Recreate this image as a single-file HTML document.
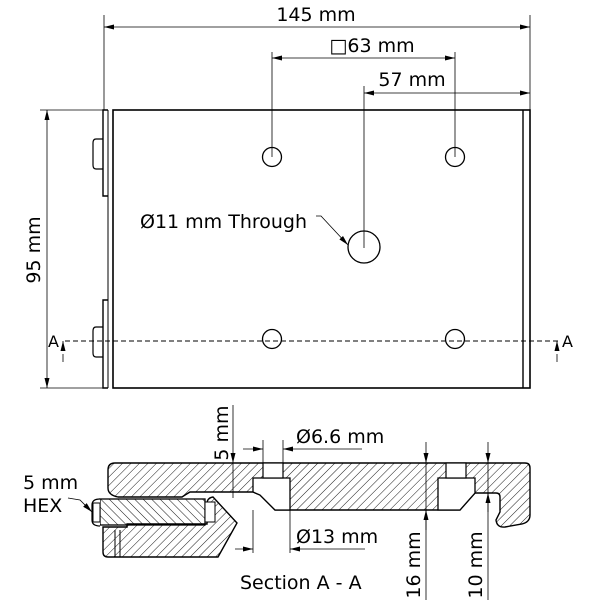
<!DOCTYPE html>
<html><head><style>body{margin:0;background:#fff}svg{display:block}text{font-family:"DejaVu Sans","Liberation Sans",sans-serif;fill:#000}</style></head>
<body>
<svg width="600" height="600" viewBox="0 0 600 600" xmlns="http://www.w3.org/2000/svg">
<defs>
<pattern id="h1" width="6" height="6" patternUnits="userSpaceOnUse" patternTransform="rotate(45)"><line x1="0" y1="0" x2="0" y2="6" stroke="#000" stroke-width="0.9"/></pattern>
<pattern id="h2" width="6" height="6" patternUnits="userSpaceOnUse" patternTransform="rotate(-45)"><line x1="0" y1="0" x2="0" y2="6" stroke="#000" stroke-width="0.9"/></pattern>
<marker id="a" markerWidth="10" markerHeight="6" refX="10" refY="3" orient="auto-start-reverse" markerUnits="userSpaceOnUse"><path d="M0,0.5 L10,3 L0,5.5z" fill="#000"/></marker>
</defs>
<g stroke="#000" fill="none" stroke-width="1">
<rect x="113" y="110" width="417" height="278" stroke-width="1.6"/>
<line x1="523" y1="110" x2="523" y2="388" stroke-width="1.4"/>
<line x1="108" y1="110" x2="108" y2="388"/>
<path d="M108,110 L103,110 L103,196 L108,196 M108,300 L103,300 L103,388 L108,388" stroke-width="1.4"/>
<path d="M103,139 L96,139 Q93,139 93,143 L93,165 Q93,169 96,169 L103,169 M103,327 L96,327 Q93,327 93,331 L93,353 Q93,357 96,357 L103,357" stroke-width="1.2"/>
<circle cx="272" cy="157" r="9.5" stroke-width="1.3"/><circle cx="455" cy="157" r="9.5" stroke-width="1.3"/>
<circle cx="272" cy="339" r="9.5" stroke-width="1.3"/><circle cx="455" cy="339" r="9.5" stroke-width="1.3"/>
<circle cx="364" cy="247" r="16" stroke-width="1.3"/>
<line x1="104" y1="15" x2="104" y2="110" stroke-width="0.8"/><line x1="530" y1="15" x2="530" y2="110" stroke-width="0.8"/>
<line x1="104" y1="27" x2="530" y2="27" stroke-width="0.8" marker-start="url(#a)" marker-end="url(#a)"/>
<line x1="272" y1="52" x2="272" y2="157" stroke-width="0.8"/><line x1="455" y1="52" x2="455" y2="157" stroke-width="0.8"/>
<line x1="272" y1="58" x2="455" y2="58" stroke-width="0.8" marker-start="url(#a)" marker-end="url(#a)"/>
<line x1="364" y1="86" x2="364" y2="248" stroke-width="0.8"/>
<line x1="364" y1="93" x2="530" y2="93" stroke-width="0.8" marker-start="url(#a)" marker-end="url(#a)"/>
<path d="M316,216 L321,216 L348,245" stroke-width="0.8" marker-end="url(#a)"/>
<line x1="40" y1="110" x2="104" y2="110" stroke-width="0.8"/><line x1="40" y1="388" x2="104" y2="388" stroke-width="0.8"/>
<line x1="47" y1="110" x2="47" y2="388" stroke-width="0.8" marker-start="url(#a)" marker-end="url(#a)"/>
<line x1="65" y1="341" x2="560" y2="341" stroke-dasharray="5,3" stroke-width="1"/>
<line x1="63" y1="362" x2="63" y2="341" stroke-width="0.8" stroke-dasharray="8,3,2,3" marker-end="url(#a)"/>
<line x1="557" y1="362" x2="557" y2="341" stroke-width="0.8" stroke-dasharray="8,3,2,3" marker-end="url(#a)"/>
<path d="M108,470 Q108,463 115,463 L525,463 Q530,463 530,468 L530,515 Q530,522 522,524 L505,527 Q497,528 496,520 L500,512 L500,497 Q500,493 496,493 L475,493 L460,510 L275,510 L260,495 L253,492 L190,492 Q185,495 182,497 L118,497 Q108,495 108,488 Z" fill="url(#h1)" stroke-width="1.4"/>
<path d="M253,478 L290,478 L290,510 L275,510 L260,495 L253,492 Z" fill="#fff" stroke-width="1.3"/>
<rect x="263" y="463" width="20" height="15" fill="#fff" stroke-width="1.2"/>
<path d="M438,478 L475,478 L475,493 L460,510 L438,510 Z" fill="#fff" stroke-width="1.3"/>
<rect x="446" y="463" width="20" height="15" fill="#fff" stroke-width="1.2"/>
<path d="M103,527 L103,552 Q103,557 108,557 L218,557 L237,523 L213,497 Q205,498 207,510 L207,524 L127,524 L127,527 Z" fill="url(#h1)" stroke-width="1.4"/>
<line x1="115" y1="530" x2="115" y2="557"/><line x1="120" y1="530" x2="120" y2="557"/>
<rect x="100" y="499" width="105" height="26" fill="url(#h2)" stroke-width="1.3"/>
<path d="M100,499 Q92,499 92,505 L92,520 Q92,526 100,526" fill="#fff" stroke-width="1.2"/>
<rect x="93" y="503" width="7" height="19" fill="#fff"/>
<rect x="205" y="502" width="10" height="20" fill="#fff"/>
<line x1="233" y1="405" x2="233" y2="463" stroke-width="0.8" marker-end="url(#a)"/>
<line x1="233" y1="463" x2="233" y2="498" stroke-width="0.8"/>
<line x1="263" y1="440" x2="263" y2="463" stroke-width="0.8"/><line x1="283" y1="440" x2="283" y2="463" stroke-width="0.8"/>
<line x1="243" y1="449" x2="263" y2="449" stroke-width="0.8" marker-end="url(#a)"/>
<line x1="362" y1="449" x2="283" y2="449" stroke-width="0.8" marker-end="url(#a)"/>
<line x1="253" y1="510" x2="253" y2="553" stroke-width="0.8"/><line x1="290" y1="510" x2="290" y2="553" stroke-width="0.8"/>
<line x1="235" y1="549" x2="253" y2="549" stroke-width="0.8" marker-end="url(#a)"/>
<line x1="365" y1="549" x2="290" y2="549" stroke-width="0.8" marker-end="url(#a)"/>
<line x1="426" y1="442" x2="426" y2="463" stroke-width="0.8" marker-end="url(#a)"/>
<line x1="426" y1="463" x2="426" y2="600" stroke-width="0.8"/>
<line x1="426" y1="530" x2="426" y2="510" stroke-width="0.8" marker-end="url(#a)"/>
<line x1="488" y1="442" x2="488" y2="463" stroke-width="0.8" marker-end="url(#a)"/>
<line x1="488" y1="463" x2="488" y2="600" stroke-width="0.8"/>
<line x1="488" y1="512" x2="488" y2="493" stroke-width="0.8" marker-end="url(#a)"/>
<path d="M68,498 L80,500 L92,512" stroke-width="0.8" marker-end="url(#a)"/>
</g>
<g font-size="19">
<text x="316" y="21" text-anchor="middle">145 mm</text>
<text x="372" y="52" text-anchor="middle">□63 mm</text>
<text x="412" y="86" text-anchor="middle">57 mm</text>
<text x="140" y="228">Ø11 mm Through</text>
<text transform="translate(40,250) rotate(-90)" text-anchor="middle">95 mm</text>
<text x="48" y="347" font-size="16">A</text>
<text x="562" y="347" font-size="16">A</text>
<text transform="translate(228,433) rotate(-90)" text-anchor="middle">5 mm</text>
<text x="296" y="443">Ø6.6 mm</text>
<text x="296" y="543">Ø13 mm</text>
<text transform="translate(420,565) rotate(-90)" text-anchor="middle">16 mm</text>
<text transform="translate(482,565) rotate(-90)" text-anchor="middle">10 mm</text>
<text x="240" y="589">Section A - A</text>
<text x="23" y="489">5 mm</text>
<text x="23" y="512">HEX</text>
</g>
</svg>
</body></html>
